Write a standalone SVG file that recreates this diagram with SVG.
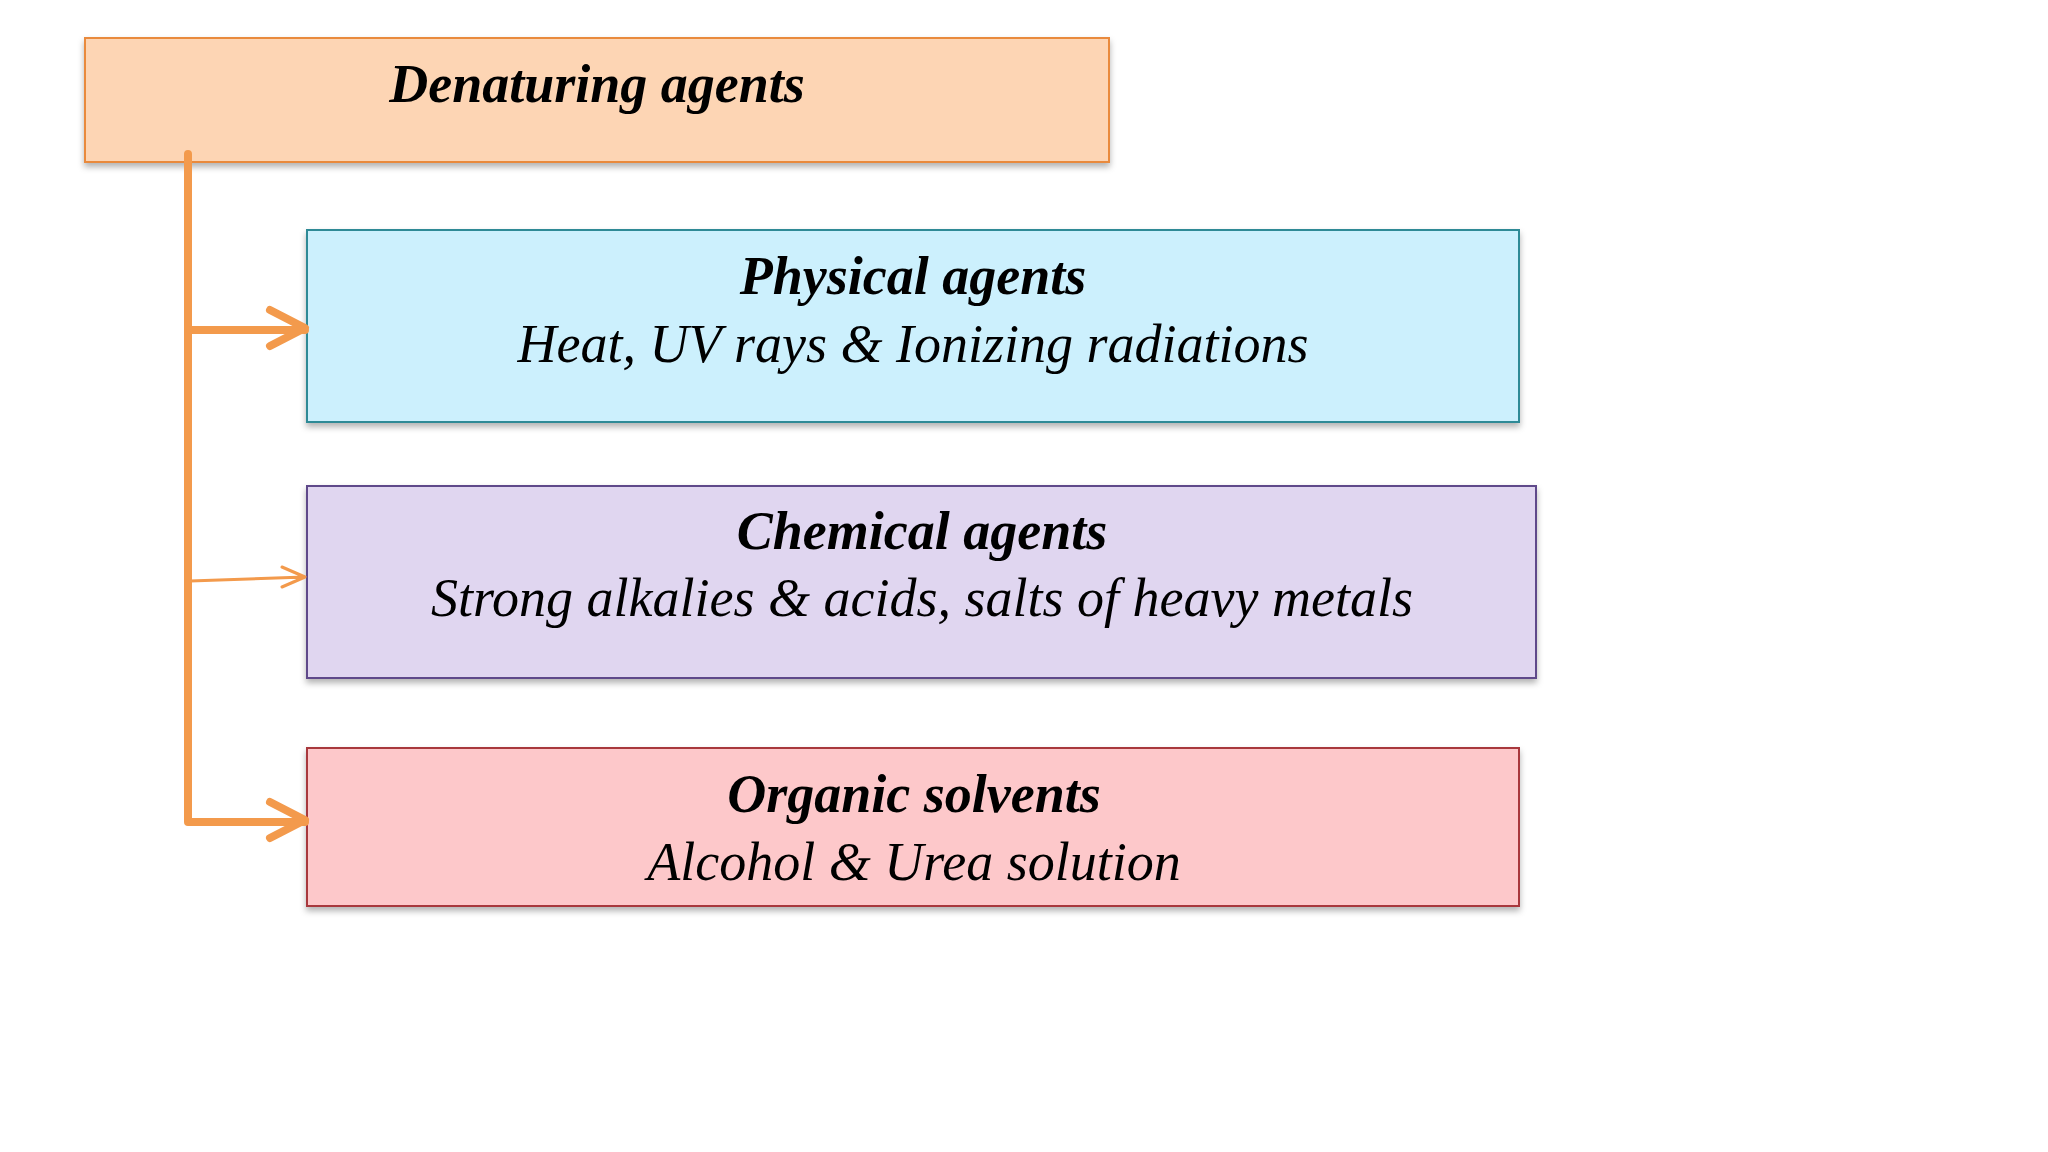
<svg xmlns="http://www.w3.org/2000/svg" width="2048" height="1152" viewBox="0 0 2048 1152">
<defs>
<style>
.t{font-family:"Liberation Serif",serif;font-style:italic;font-size:54px;fill:#000;text-anchor:middle}
.b{font-weight:bold}
.c{stroke:#f39a4c;fill:none;stroke-linecap:round;stroke-linejoin:round}
</style>
<filter id="sh" x="-5%" y="-5%" width="110%" height="120%"><feDropShadow dx="0" dy="4" stdDeviation="3" flood-color="#000" flood-opacity="0.3"/></filter>
</defs>
<rect width="2048" height="1152" fill="#fff"/>
<g id="root"><rect x="85" y="38" width="1024" height="124" fill="#fdd5b4" stroke="#e98a3c" stroke-width="2" filter="url(#sh)"/>
<text class="t b" x="597" y="102">Denaturing agents</text></g>
<g id="physical"><rect x="307" y="230" width="1212" height="192" fill="#ccf0fd" stroke="#2e8a96" stroke-width="2" filter="url(#sh)"/>
<text class="t b" x="913" y="294">Physical agents</text><text class="t" x="913" y="362">Heat, UV rays &amp; Ionizing radiations</text></g>
<g id="chemical"><rect x="307" y="486" width="1229" height="192" fill="#e0d6f0" stroke="#5f4a8a" stroke-width="2" filter="url(#sh)"/>
<text class="t b" x="922" y="549">Chemical agents</text><text class="t" x="922" y="616">Strong alkalies &amp; acids, salts of heavy metals</text></g>
<g id="organic"><rect x="307" y="748" width="1212" height="158" fill="#fdc8ca" stroke="#a8393c" stroke-width="2" filter="url(#sh)"/>
<text class="t b" x="914" y="812">Organic solvents</text><text class="t" x="914" y="880">Alcohol &amp; Urea solution</text></g>
<g id="connectors">
<path class="c" stroke-width="8" d="M188 154 V822 H305"/>
<path class="c" stroke-width="8" d="M270 802 L305 820 L270 838"/>
<path class="c" stroke-width="8" d="M190 330 H305 M270 310 L305 328 L270 346"/>
<path class="c" stroke-width="3" d="M190 581 L305 577 M282 567 L305 577 L282 587"/>
</g>
</svg>
